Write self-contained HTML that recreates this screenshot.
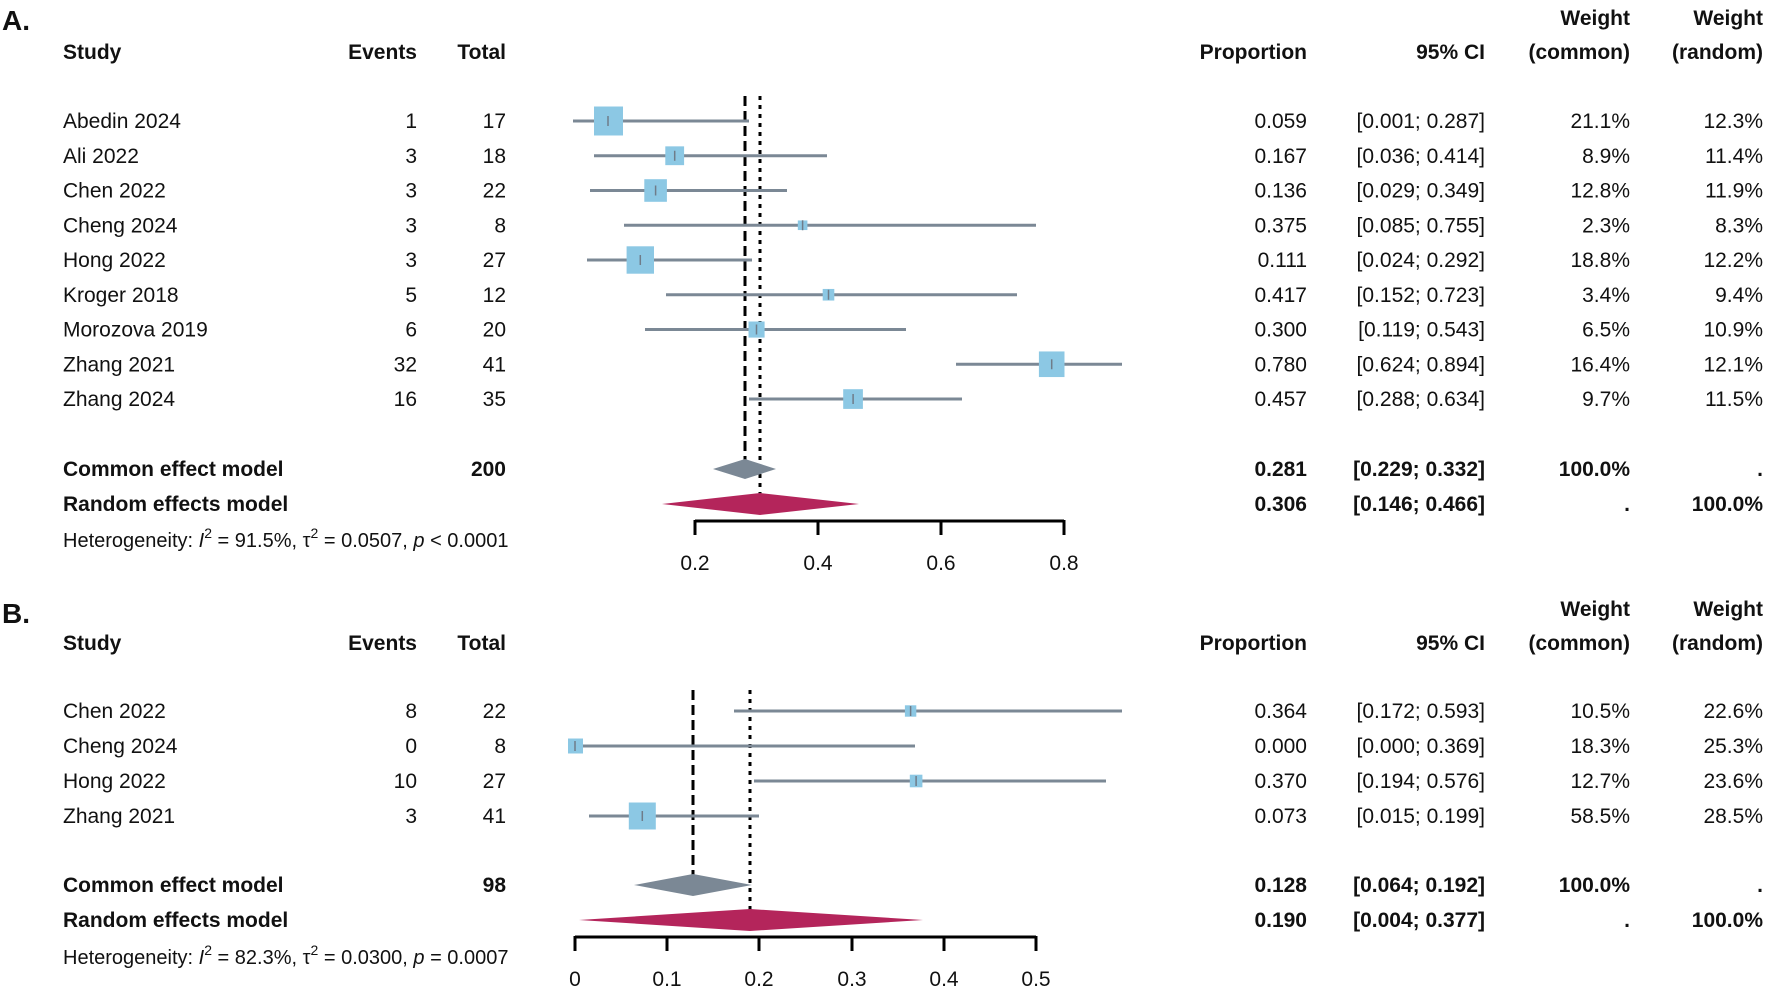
<!DOCTYPE html>
<html><head><meta charset="utf-8"><style>
html,body{margin:0;padding:0;background:#fff}
svg{display:block}
text{font-family:"Liberation Sans",Arial,sans-serif;font-size:21px;fill:#111}
.b{font-weight:bold}
.e{text-anchor:end}
.m{text-anchor:middle}
.ci{stroke:#7b8895;stroke-width:3}
.sq{fill:#8cc8e4}
.tk{stroke:#6f7c89;stroke-width:1.5}
.h{font-size:20px}
</style></head><body>
<svg width="1772" height="989" viewBox="0 0 1772 989" xmlns="http://www.w3.org/2000/svg">
<!-- Panel A -->
<text x="2" y="30" class="b" style="font-size:28px">A.</text>
<text x="1763" y="25" class="b e">Weight</text>
<text x="1630" y="25" class="b e">Weight</text>
<g class="b">
<text x="63" y="59">Study</text>
<text x="417" y="59" class="e">Events</text>
<text x="506" y="59" class="e">Total</text>
<text x="1307" y="59" class="e">Proportion</text>
<text x="1485" y="59" class="e">95% CI</text>
<text x="1630" y="59" class="e">(common)</text>
<text x="1763" y="59" class="e">(random)</text>
</g>
<line x1="745" y1="96" x2="745" y2="470" stroke="#000" stroke-width="3" stroke-dasharray="10,5"/>
<line x1="760" y1="96" x2="760" y2="505" stroke="#000" stroke-width="3" stroke-dasharray="4,5"/>
<g transform="translate(0,121)"><line class="ci" x1="573" x2="749" y1="0" y2="0"/><rect class="sq" x="594" y="-14.5" width="29" height="29"/><line class="tk" x1="608" x2="608" y1="-5" y2="5"/>
<text x="63" y="7">Abedin 2024</text><text x="417" y="7" class="e">1</text><text x="506" y="7" class="e">17</text><text x="1307" y="7" class="e">0.059</text><text x="1485" y="7" class="e">[0.001; 0.287]</text><text x="1630" y="7" class="e">21.1%</text><text x="1763" y="7" class="e">12.3%</text></g>
<g transform="translate(0,155.75)"><line class="ci" x1="594" x2="827" y1="0" y2="0"/><rect class="sq" x="665.3" y="-9.4" width="18.8" height="18.8"/><line class="tk" x1="674.7" x2="674.7" y1="-5" y2="5"/>
<text x="63" y="7">Ali 2022</text><text x="417" y="7" class="e">3</text><text x="506" y="7" class="e">18</text><text x="1307" y="7" class="e">0.167</text><text x="1485" y="7" class="e">[0.036; 0.414]</text><text x="1630" y="7" class="e">8.9%</text><text x="1763" y="7" class="e">11.4%</text></g>
<g transform="translate(0,190.5)"><line class="ci" x1="590" x2="787" y1="0" y2="0"/><rect class="sq" x="644.3" y="-11.3" width="22.6" height="22.6"/><line class="tk" x1="655.6" x2="655.6" y1="-5" y2="5"/>
<text x="63" y="7">Chen 2022</text><text x="417" y="7" class="e">3</text><text x="506" y="7" class="e">22</text><text x="1307" y="7" class="e">0.136</text><text x="1485" y="7" class="e">[0.029; 0.349]</text><text x="1630" y="7" class="e">12.8%</text><text x="1763" y="7" class="e">11.9%</text></g>
<g transform="translate(0,225.25)"><line class="ci" x1="624" x2="1036" y1="0" y2="0"/><rect class="sq" x="797.8" y="-4.8" width="9.6" height="9.6"/><line class="tk" x1="802.6" x2="802.6" y1="-5" y2="5"/>
<text x="63" y="7">Cheng 2024</text><text x="417" y="7" class="e">3</text><text x="506" y="7" class="e">8</text><text x="1307" y="7" class="e">0.375</text><text x="1485" y="7" class="e">[0.085; 0.755]</text><text x="1630" y="7" class="e">2.3%</text><text x="1763" y="7" class="e">8.3%</text></g>
<g transform="translate(0,260)"><line class="ci" x1="587" x2="752" y1="0" y2="0"/><rect class="sq" x="626.6" y="-13.7" width="27.4" height="27.4"/><line class="tk" x1="640.3" x2="640.3" y1="-5" y2="5"/>
<text x="63" y="7">Hong 2022</text><text x="417" y="7" class="e">3</text><text x="506" y="7" class="e">27</text><text x="1307" y="7" class="e">0.111</text><text x="1485" y="7" class="e">[0.024; 0.292]</text><text x="1630" y="7" class="e">18.8%</text><text x="1763" y="7" class="e">12.2%</text></g>
<g transform="translate(0,294.75)"><line class="ci" x1="666" x2="1017" y1="0" y2="0"/><rect class="sq" x="822.7" y="-5.8" width="11.6" height="11.6"/><line class="tk" x1="828.5" x2="828.5" y1="-5" y2="5"/>
<text x="63" y="7">Kroger 2018</text><text x="417" y="7" class="e">5</text><text x="506" y="7" class="e">12</text><text x="1307" y="7" class="e">0.417</text><text x="1485" y="7" class="e">[0.152; 0.723]</text><text x="1630" y="7" class="e">3.4%</text><text x="1763" y="7" class="e">9.4%</text></g>
<g transform="translate(0,329.5)"><line class="ci" x1="645" x2="906" y1="0" y2="0"/><rect class="sq" x="748.5" y="-8" width="16.1" height="16.1"/><line class="tk" x1="756.5" x2="756.5" y1="-5" y2="5"/>
<text x="63" y="7">Morozova 2019</text><text x="417" y="7" class="e">6</text><text x="506" y="7" class="e">20</text><text x="1307" y="7" class="e">0.300</text><text x="1485" y="7" class="e">[0.119; 0.543]</text><text x="1630" y="7" class="e">6.5%</text><text x="1763" y="7" class="e">10.9%</text></g>
<g transform="translate(0,364.25)"><line class="ci" x1="956" x2="1122" y1="0" y2="0"/><rect class="sq" x="1038.9" y="-12.8" width="25.6" height="25.6"/><line class="tk" x1="1051.7" x2="1051.7" y1="-5" y2="5"/>
<text x="63" y="7">Zhang 2021</text><text x="417" y="7" class="e">32</text><text x="506" y="7" class="e">41</text><text x="1307" y="7" class="e">0.780</text><text x="1485" y="7" class="e">[0.624; 0.894]</text><text x="1630" y="7" class="e">16.4%</text><text x="1763" y="7" class="e">12.1%</text></g>
<g transform="translate(0,399)"><line class="ci" x1="749" x2="962" y1="0" y2="0"/><rect class="sq" x="843.2" y="-9.8" width="19.7" height="19.7"/><line class="tk" x1="853.1" x2="853.1" y1="-5" y2="5"/>
<text x="63" y="7">Zhang 2024</text><text x="417" y="7" class="e">16</text><text x="506" y="7" class="e">35</text><text x="1307" y="7" class="e">0.457</text><text x="1485" y="7" class="e">[0.288; 0.634]</text><text x="1630" y="7" class="e">9.7%</text><text x="1763" y="7" class="e">11.5%</text></g>
<polygon points="713,469 745,459 776,469 745,479" fill="#7b8895"/>
<polygon points="662,504 760,493 859,504 760,515" fill="#b4255b"/>
<g class="b">
<text x="63" y="476">Common effect model</text><text x="506" y="476" class="e">200</text>
<text x="1307" y="476" class="e">0.281</text><text x="1485" y="476" class="e">[0.229; 0.332]</text><text x="1630" y="476" class="e">100.0%</text><text x="1763" y="476" class="e">.</text>
<text x="63" y="511">Random effects model</text>
<text x="1307" y="511" class="e">0.306</text><text x="1485" y="511" class="e">[0.146; 0.466]</text><text x="1630" y="511" class="e">.</text><text x="1763" y="511" class="e">100.0%</text>
</g>
<text x="63" y="547" class="h">Heterogeneity: <tspan font-style="italic">I</tspan><tspan dy="-9" font-size="14">2</tspan><tspan dy="9"> = 91.5%, τ</tspan><tspan dy="-9" font-size="14">2</tspan><tspan dy="9"> = 0.0507, </tspan><tspan font-style="italic">p</tspan> &lt; 0.0001</text>
<g stroke="#000" stroke-width="3" fill="none">
<line x1="695" y1="521" x2="1064" y2="521"/>
<line x1="695" y1="520" x2="695" y2="535"/><line x1="818" y1="520" x2="818" y2="535"/><line x1="941" y1="520" x2="941" y2="535"/><line x1="1064" y1="520" x2="1064" y2="535"/>
</g>
<text x="695" y="570" class="m">0.2</text><text x="818" y="570" class="m">0.4</text><text x="941" y="570" class="m">0.6</text><text x="1064" y="570" class="m">0.8</text>

<!-- Panel B -->
<text x="2" y="623" class="b" style="font-size:28px">B.</text>
<text x="1763" y="616" class="b e">Weight</text>
<text x="1630" y="616" class="b e">Weight</text>
<g class="b">
<text x="63" y="650">Study</text>
<text x="417" y="650" class="e">Events</text>
<text x="506" y="650" class="e">Total</text>
<text x="1307" y="650" class="e">Proportion</text>
<text x="1485" y="650" class="e">95% CI</text>
<text x="1630" y="650" class="e">(common)</text>
<text x="1763" y="650" class="e">(random)</text>
</g>
<line x1="693" y1="690" x2="693" y2="886" stroke="#000" stroke-width="3" stroke-dasharray="10,5"/>
<line x1="750" y1="690" x2="750" y2="921" stroke="#000" stroke-width="3" stroke-dasharray="4,5"/>
<g transform="translate(0,711)"><line class="ci" x1="734" x2="1122" y1="0" y2="0"/><rect class="sq" x="904.9" y="-5.7" width="11.4" height="11.4"/><line class="tk" x1="910.6" x2="910.6" y1="-5" y2="5"/>
<text x="63" y="7">Chen 2022</text><text x="417" y="7" class="e">8</text><text x="506" y="7" class="e">22</text><text x="1307" y="7" class="e">0.364</text><text x="1485" y="7" class="e">[0.172; 0.593]</text><text x="1630" y="7" class="e">10.5%</text><text x="1763" y="7" class="e">22.6%</text></g>
<g transform="translate(0,746)"><line class="ci" x1="575" x2="915" y1="0" y2="0"/><rect class="sq" x="568" y="-7.5" width="15" height="15"/><line class="tk" x1="575" x2="575" y1="-5" y2="5"/>
<text x="63" y="7">Cheng 2024</text><text x="417" y="7" class="e">0</text><text x="506" y="7" class="e">8</text><text x="1307" y="7" class="e">0.000</text><text x="1485" y="7" class="e">[0.000; 0.369]</text><text x="1630" y="7" class="e">18.3%</text><text x="1763" y="7" class="e">25.3%</text></g>
<g transform="translate(0,781)"><line class="ci" x1="754" x2="1106" y1="0" y2="0"/><rect class="sq" x="909.8" y="-6.3" width="12.6" height="12.6"/><line class="tk" x1="916.1" x2="916.1" y1="-5" y2="5"/>
<text x="63" y="7">Hong 2022</text><text x="417" y="7" class="e">10</text><text x="506" y="7" class="e">27</text><text x="1307" y="7" class="e">0.370</text><text x="1485" y="7" class="e">[0.194; 0.576]</text><text x="1630" y="7" class="e">12.7%</text><text x="1763" y="7" class="e">23.6%</text></g>
<g transform="translate(0,816)"><line class="ci" x1="589" x2="759" y1="0" y2="0"/><rect class="sq" x="628.8" y="-13.5" width="27" height="27"/><line class="tk" x1="642.3" x2="642.3" y1="-5" y2="5"/>
<text x="63" y="7">Zhang 2021</text><text x="417" y="7" class="e">3</text><text x="506" y="7" class="e">41</text><text x="1307" y="7" class="e">0.073</text><text x="1485" y="7" class="e">[0.015; 0.199]</text><text x="1630" y="7" class="e">58.5%</text><text x="1763" y="7" class="e">28.5%</text></g>
<polygon points="634,885 693,874 752,885 693,896" fill="#7b8895"/>
<polygon points="579,920 750,909 923,920 750,931" fill="#b4255b"/>
<g class="b">
<text x="63" y="892">Common effect model</text><text x="506" y="892" class="e">98</text>
<text x="1307" y="892" class="e">0.128</text><text x="1485" y="892" class="e">[0.064; 0.192]</text><text x="1630" y="892" class="e">100.0%</text><text x="1763" y="892" class="e">.</text>
<text x="63" y="927">Random effects model</text>
<text x="1307" y="927" class="e">0.190</text><text x="1485" y="927" class="e">[0.004; 0.377]</text><text x="1630" y="927" class="e">.</text><text x="1763" y="927" class="e">100.0%</text>
</g>
<text x="63" y="964" class="h">Heterogeneity: <tspan font-style="italic">I</tspan><tspan dy="-9" font-size="14">2</tspan><tspan dy="9"> = 82.3%, τ</tspan><tspan dy="-9" font-size="14">2</tspan><tspan dy="9"> = 0.0300, </tspan><tspan font-style="italic">p</tspan> = 0.0007</text>
<g stroke="#000" stroke-width="3" fill="none">
<line x1="575" y1="937" x2="1036" y2="937"/>
<line x1="575" y1="936" x2="575" y2="951"/><line x1="667" y1="936" x2="667" y2="951"/><line x1="759" y1="936" x2="759" y2="951"/><line x1="852" y1="936" x2="852" y2="951"/><line x1="944" y1="936" x2="944" y2="951"/><line x1="1036" y1="936" x2="1036" y2="951"/>
</g>
<text x="575" y="986" class="m">0</text><text x="667" y="986" class="m">0.1</text><text x="759" y="986" class="m">0.2</text><text x="852" y="986" class="m">0.3</text><text x="944" y="986" class="m">0.4</text><text x="1036" y="986" class="m">0.5</text>
</svg>
</body></html>
